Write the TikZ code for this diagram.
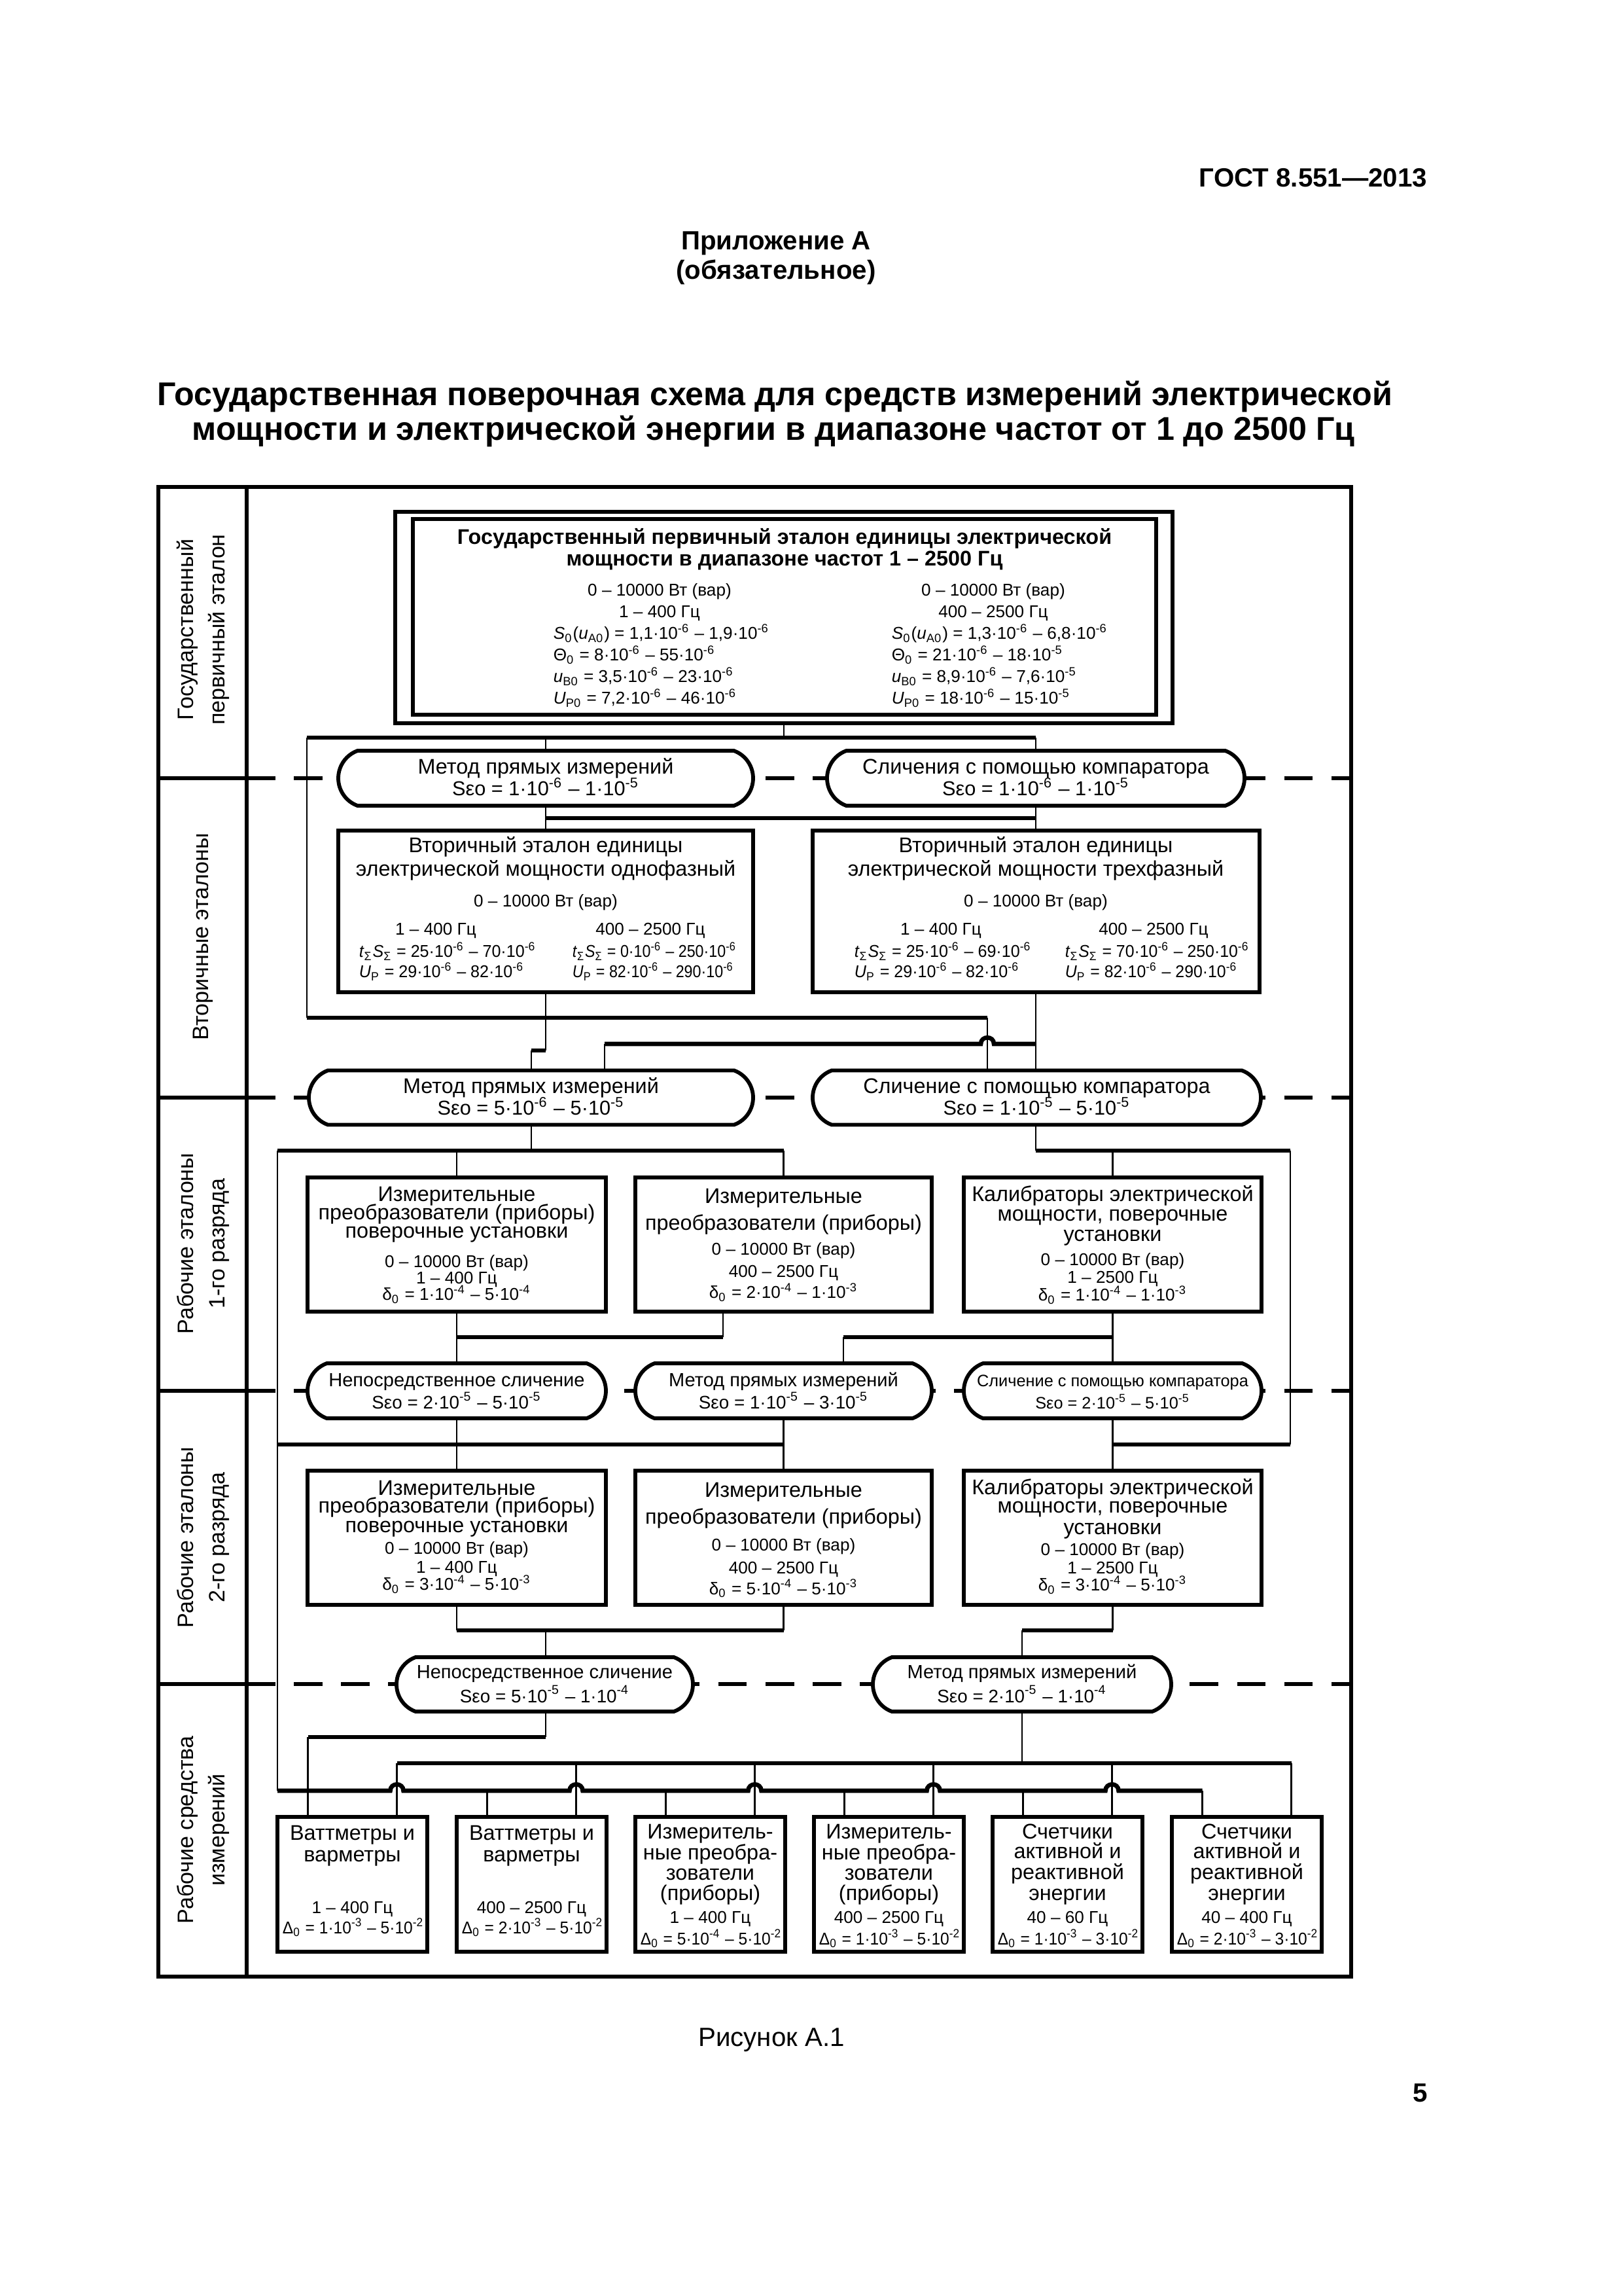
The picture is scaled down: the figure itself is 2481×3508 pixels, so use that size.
\documentclass[tikz,border=0pt]{standalone}
\usepackage{fontspec}
\usepackage{graphicx}
\setmainfont{Liberation Sans}
\usetikzlibrary{shapes.misc}
\newdimen\px \px=0.0846433mm
\newcounter{tcount}
\newcommand\TX[4][tx]{\stepcounter{tcount}\node[#1] (txt\arabic{tcount}) at (#2,#3) {#4};}
\newcommand\tpow[1]{·10\textsuperscript{#1}}
\newcommand\hump[2]{-- ({#1-10},#2) .. controls ({#1-10},{#2-13}) and ({#1+10},{#2-13}) .. ({#1+10},#2)}
\newcommand\tS{\textit{t}\textsubscript{Σ}\textit{S}\textsubscript{Σ}}
\newcommand\UP{\textit{U}\textsubscript{P}}
\newcommand\sx[2]{\scalebox{#1}[1]{#2}}
\begin{document}
\begin{tikzpicture}[x=0.0846433mm, y=-0.0846433mm,
  box/.style={draw, line width=1.4pt, fill=white, rectangle, inner sep=0pt, outer sep=0pt},
  ov/.style={draw, line width=1.4pt, fill=white, rounded rectangle, rounded rectangle arc length=140, inner sep=0pt, outer sep=0pt},
  tx/.style={inner sep=0pt, anchor=mid, font=\fontsize{7.8}{9}\selectfont},
  ots/.style={inner sep=0pt, anchor=mid, font=\fontsize{7.4}{9}\selectfont},
  qt/.style={inner sep=0pt, anchor=mid, font=\fontsize{7}{8}\selectfont},
  qs/.style={inner sep=0pt, anchor=mid, font=\fontsize{6.7}{8}\selectfont},
  txs/.style={inner sep=0pt, anchor=mid, font=\fontsize{6.1}{7}\selectfont},
  tb/.style={inner sep=0pt, anchor=mid, font=\bfseries\fontsize{7.8}{9}\selectfont},
  vl/.style={inner sep=0pt, anchor=mid, font=\fontsize{6.3}{7}\selectfont},
  vw/.style={vl, anchor=mid west},
  lab/.style={inner sep=0pt, anchor=mid, rotate=90, font=\fontsize{8.2}{9}\selectfont},
  cthin/.style={line width=0.65pt},
  cthick/.style={line width=1.6pt},
  dl/.style={line width=1.5pt, dash pattern=on 3.7mm off 2.4mm},
  frm/.style={line width=1.3pt}]
\useasboundingbox (0,0) rectangle (2481,3508);

% header
\node[inner sep=0pt, anchor=mid east, font=\bfseries\fontsize{9.7}{11}\selectfont] (gost) at (2182,275) {ГОСТ 8.551—2013};
\node[inner sep=0pt, anchor=mid, font=\bfseries\fontsize{9.7}{11}\selectfont] (app) at (1186,371) {Приложение А};
\node[inner sep=0pt, anchor=mid, font=\bfseries\fontsize{9.7}{11}\selectfont] (obl) at (1186,416) {(обязательное)};
\node[inner sep=0pt, anchor=mid, font=\bfseries\fontsize{12.1}{14}\selectfont] (ttl1) at (1184,609) {Государственная поверочная схема для средств измерений электрической};
\node[inner sep=0pt, anchor=mid, font=\bfseries\fontsize{12.1}{14}\selectfont] (ttl2) at (1182,662) {мощности и электрической энергии в диапазоне частот от 1 до 2500 Гц};
\node[inner sep=0pt, anchor=mid, font=\fontsize{9.7}{11}\selectfont] (fig) at (1179,3115) {Рисунок А.1};
\node[inner sep=0pt, anchor=mid, font=\bfseries\fontsize{9.7}{11}\selectfont] (pg) at (2171,3200) {5};

% frame
\draw[frm] (242,744) rectangle (2065,3020);
\draw[frm] (377,744) -- (377,3020);
\foreach \yy in {1189,1677,2125,2573} {
  \draw[frm] (242,\yy) -- (377,\yy);
  \draw[dl] (377,\yy) -- (2065,\yy);
}
% left labels
\node[lab] (l1a) at (285,962) {Государственный};
\node[lab] (l1b) at (333,962) {первичный эталон};
\node[lab] (l2) at (308,1431) {Вторичные эталоны};
\node[lab] (l3a) at (285,1900) {Рабочие эталоны};
\node[lab] (l3b) at (333,1900) {1-го разряда};
\node[lab] (l4a) at (285,2349) {Рабочие эталоны};
\node[lab] (l4b) at (333,2349) {2-го разряда};
\node[lab] (l5a) at (285,2796) {Рабочие средства};
\node[lab] (l5b) at (333,2796) {измерений};

% ---------- connectors (drawn first, boxes on top) ----------
\coordinate (a1) at (469,1127);
\coordinate (a2) at (1583,1127);
\draw[cthin] (1198,1105) -- (1198,1127);
\draw[cthick] (a1) -- (a2);
\draw[cthin] (834,1127) -- (834,1147);
\draw[cthin] (a2) -- (1583,1147);
\draw[cthin] (834,1231) -- (834,1269);
\draw[cthin] (1583,1231) -- (1583,1269);
\draw[cthick] (834,1250) -- (1583,1250);
\draw[cthin] (a1) -- (469,1555);
\draw[cthick] (469,1555) -- (1509,1555);
\draw[cthin] (1509,1555) -- (1509,1636);
\draw[cthin] (834,1516) -- (834,1605);
\draw[cthick] (834,1605) -- (812,1605);
\draw[cthin] (812,1605) -- (812,1636);
\draw[cthin] (1583,1516) -- (1583,1636);
\draw[cthick] (924,1595) \hump{1509}{1595} -- (1583,1595);
\draw[cthin] (924,1595) -- (924,1636);
% section 3
\draw[cthin] (812,1718) -- (812,1758);
\draw[cthick] (424,1758) -- (1197.5,1758);
\draw[cthin] (698,1758) -- (698,1799);
\draw[cthin] (1197.5,1758) -- (1197.5,1799);
\draw[cthin] (1583,1718) -- (1583,1758);
\draw[cthick] (1583,1758) -- (1972,1758);
\draw[cthin] (1700.5,1758) -- (1700.5,1799);
\draw[cthin] (424,1758) -- (424,2736);
\draw[cthin] (1972,1758) -- (1972,2207);
% section 3 -> 4
\draw[cthin] (698,2004) -- (698,2083);
\draw[cthick] (698,2043) -- (1105,2043);
\draw[cthin] (1105,2004) -- (1105,2043);
\draw[cthin] (1700.5,2004) -- (1700.5,2083);
\draw[cthick] (1289,2043) -- (1700.5,2043);
\draw[cthin] (1289,2043) -- (1289,2083);
\draw[cthin] (698,2167) -- (698,2247);
\draw[cthin] (1197.5,2167) -- (1197.5,2247);
\draw[cthin] (1700.5,2167) -- (1700.5,2247);
\draw[cthick] (424,2207) -- (1197.5,2207);
\draw[cthick] (1700.5,2207) -- (1972,2207);
% section 4 -> 5
\draw[cthin] (698,2452) -- (698,2491);
\draw[cthin] (1197.5,2452) -- (1197.5,2491);
\draw[cthick] (698,2491) -- (1197.5,2491);
\draw[cthin] (834,2491) -- (834,2532);
\draw[cthin] (1700.5,2452) -- (1700.5,2491);
\draw[cthick] (1562,2491) -- (1700.5,2491);
\draw[cthin] (1562,2491) -- (1562,2532);
% section 5 -> 6
\draw[cthin] (834,2615) -- (834,2654);
\draw[cthick] (470.5,2654) -- (834,2654);
\draw[cthin] (470.5,2654) -- (470.5,2776);
\draw[cthin] (1562,2615) -- (1562,2694);
\draw[cthick] (606.5,2694) -- (1973.5,2694);
\foreach \xx in {606.5,880.5,1153.5,1426.5,1699.5,1973.5} \draw[cthin] (\xx,2694) -- (\xx,2776);
\draw[cthick] (424,2736) \hump{606.5}{2736} \hump{880.5}{2736} \hump{1153.5}{2736} \hump{1426.5}{2736} \hump{1699.5}{2736} -- (1837.5,2736);
\foreach \xx in {744.5,1017.5,1290.5,1563.5,1837.5} \draw[cthin] (\xx,2736) -- (\xx,2776);

% ---------- primary ----------
\node[box, minimum width=1188\px, minimum height=323\px] (P) at (1198,943.5) {};
\node[draw, line width=1.4pt, inner sep=0pt, minimum width=1136\px, minimum height=299\px] (Pi) at (1199,942.5) {};
\TX[tb]{1199}{821}{Государственный первичный эталон единицы электрической}
\TX[tb]{1199}{854}{мощности в диапазоне частот 1 – 2500 Гц}
\TX[vl]{1008}{900}{0 – 10000 Вт (вар)}
\TX[vl]{1008}{933}{1 – 400 Гц}
\TX[vw]{845}{966}{\textit{S}\textsubscript{0}(\textit{u}\textsubscript{A0}) = 1,1\tpow{-6} – 1,9\tpow{-6}}
\TX[vw]{845}{999}{Θ\textsubscript{0} = 8\tpow{-6} – 55\tpow{-6}}
\TX[vw]{845}{1032}{\textit{u}\textsubscript{B0} = 3,5\tpow{-6} – 23\tpow{-6}}
\TX[vw]{845}{1065}{\textit{U}\textsubscript{P0} = 7,2\tpow{-6} – 46\tpow{-6}}
\TX[vl]{1518}{900}{0 – 10000 Вт (вар)}
\TX[vl]{1518}{933}{400 – 2500 Гц}
\TX[vw]{1362}{966}{\textit{S}\textsubscript{0}(\textit{u}\textsubscript{A0}) = 1,3\tpow{-6} – 6,8\tpow{-6}}
\TX[vw]{1362}{999}{Θ\textsubscript{0} = 21\tpow{-6} – 18\tpow{-5}}
\TX[vw]{1362}{1032}{\textit{u}\textsubscript{B0} = 8,9\tpow{-6} – 7,6\tpow{-5}}
\TX[vw]{1362}{1065}{\textit{U}\textsubscript{P0} = 18\tpow{-6} – 15\tpow{-5}}

% ---------- ovals row 1 ----------
\node[ov, minimum width=634\px, minimum height=84\px] (O1) at (834,1189) {};
\node[ov, minimum width=638\px, minimum height=84\px] (O2) at (1583,1189) {};
\TX{834}{1172}{Метод прямых измерений}
\TX[ots]{834}{1205}{Sεo = 1\tpow{-6} – 1\tpow{-5}}
\TX{1583}{1172}{Сличения с помощью компаратора}
\TX[ots]{1583}{1205}{Sεo = 1\tpow{-6} – 1\tpow{-5}}

% ---------- secondary ----------
\node[box, minimum width=634\px, minimum height=247\px] (B1) at (834,1392.5) {};
\node[box, minimum width=683\px, minimum height=247\px] (B2) at (1583.5,1392.5) {};
\TX{834}{1292}{Вторичный эталон единицы}
\TX{834}{1328}{электрической мощности однофазный}
\TX[vl]{834}{1375}{0 – 10000 Вт (вар)}
\TX[vl]{666}{1418}{1 – 400 Гц}
\TX[vl]{994}{1418}{400 – 2500 Гц}
\TX[vw]{548}{1452}{\sx{0.96}{\tS{} = 25\tpow{-6} – 70\tpow{-6}}}
\TX[vw]{548}{1483}{\sx{0.96}{\UP{} = 29\tpow{-6} – 82\tpow{-6}}}
\TX[vw]{874}{1452}{\sx{0.89}{\tS{} = 0\tpow{-6} – 250\tpow{-6}}}
\TX[vw]{874}{1483}{\sx{0.89}{\UP{} = 82\tpow{-6} – 290\tpow{-6}}}
\TX{1583}{1292}{Вторичный эталон единицы}
\TX{1583}{1328}{электрической мощности трехфазный}
\TX[vl]{1583}{1375}{0 – 10000 Вт (вар)}
\TX[vl]{1438}{1418}{1 – 400 Гц}
\TX[vl]{1763}{1418}{400 – 2500 Гц}
\TX[vw]{1305}{1452}{\sx{0.96}{\tS{} = 25\tpow{-6} – 69\tpow{-6}}}
\TX[vw]{1305}{1483}{\sx{0.96}{\UP{} = 29\tpow{-6} – 82\tpow{-6}}}
\TX[vw]{1627}{1452}{\sx{0.95}{\tS{} = 70\tpow{-6} – 250\tpow{-6}}}
\TX[vw]{1627}{1483}{\sx{0.95}{\UP{} = 82\tpow{-6} – 290\tpow{-6}}}

% ---------- ovals row 2 ----------
\node[ov, minimum width=679\px, minimum height=83\px] (O3) at (811.5,1677) {};
\node[ov, minimum width=685\px, minimum height=83\px] (O4) at (1584.5,1677) {};
\TX{811.5}{1660}{Метод прямых измерений}
\TX[ots]{811.5}{1693}{Sεo = 5\tpow{-6} – 5\tpow{-5}}
\TX{1584.5}{1660}{Сличение с помощью компаратора}
\TX[ots]{1584.5}{1693}{Sεo = 1\tpow{-5} – 5\tpow{-5}}

% ---------- 1st rank boxes ----------
\node[box, minimum width=456\px, minimum height=205\px] (C1) at (698,1901.5) {};
\node[box, minimum width=453\px, minimum height=205\px] (C2) at (1197.5,1901.5) {};
\node[box, minimum width=455\px, minimum height=205\px] (C3) at (1700.5,1901.5) {};
\TX{698}{1825}{Измерительные}
\TX{698}{1853}{преобразователи (приборы)}
\TX{698}{1881}{поверочные установки}
\TX[vl]{698}{1926}{0 – 10000 Вт (вар)}
\TX[vl]{698}{1951}{1 – 400 Гц}
\TX[vl]{698}{1976}{δ\textsubscript{0} = 1\tpow{-4} – 5\tpow{-4}}
\TX{1197.5}{1828}{Измерительные}
\TX{1197.5}{1869}{преобразователи (приборы)}
\TX[vl]{1197.5}{1907}{0 – 10000 Вт (вар)}
\TX[vl]{1197.5}{1941}{400 – 2500 Гц}
\TX[vl]{1197.5}{1973}{δ\textsubscript{0} = 2\tpow{-4} – 1\tpow{-3}}
\TX{1700.5}{1825}{Калибраторы электрической}
\TX{1700.5}{1855}{мощности, поверочные}
\TX{1700.5}{1886}{установки}
\TX[vl]{1700.5}{1923}{0 – 10000 Вт (вар)}
\TX[vl]{1700.5}{1950}{1 – 2500 Гц}
\TX[vl]{1700.5}{1977}{δ\textsubscript{0} = 1\tpow{-4} – 1\tpow{-3}}

% ---------- ovals row 3 ----------
\node[ov, minimum width=456\px, minimum height=84\px] (Q1) at (698,2125) {};
\node[ov, minimum width=453\px, minimum height=84\px] (Q2) at (1197.5,2125) {};
\node[ov, minimum width=455\px, minimum height=84\px] (Q3) at (1700.5,2125) {};
\TX[qt]{698}{2108}{Непосредственное сличение}
\TX[qs]{698}{2142}{Sεo = 2\tpow{-5} – 5\tpow{-5}}
\TX[qt]{1197.5}{2108}{Метод прямых измерений}
\TX[qs]{1197.5}{2142}{Sεo = 1\tpow{-5} – 3\tpow{-5}}
\TX[txs]{1700.5}{2108}{Сличение с помощью компаратора}
\TX[txs]{1700.5}{2142}{Sεo = 2\tpow{-5} – 5\tpow{-5}}

% ---------- 2nd rank boxes ----------
\node[box, minimum width=456\px, minimum height=205\px] (D1) at (698,2349.5) {};
\node[box, minimum width=453\px, minimum height=205\px] (D2) at (1197.5,2349.5) {};
\node[box, minimum width=455\px, minimum height=205\px] (D3) at (1700.5,2349.5) {};
\TX{698}{2273}{Измерительные}
\TX{698}{2301}{преобразователи (приборы)}
\TX{698}{2330}{поверочные установки}
\TX[vl]{698}{2363}{0 – 10000 Вт (вар)}
\TX[vl]{698}{2392}{1 – 400 Гц}
\TX[vl]{698}{2419}{δ\textsubscript{0} = 3\tpow{-4} – 5\tpow{-3}}
\TX{1197.5}{2277}{Измерительные}
\TX{1197.5}{2317}{преобразователи (приборы)}
\TX[vl]{1197.5}{2358}{0 – 10000 Вт (вар)}
\TX[vl]{1197.5}{2393}{400 – 2500 Гц}
\TX[vl]{1197.5}{2425}{δ\textsubscript{0} = 5\tpow{-4} – 5\tpow{-3}}
\TX{1700.5}{2272}{Калибраторы электрической}
\TX{1700.5}{2301}{мощности, поверочные}
\TX{1700.5}{2333}{установки}
\TX[vl]{1700.5}{2365}{0 – 10000 Вт (вар)}
\TX[vl]{1700.5}{2393}{1 – 2500 Гц}
\TX[vl]{1700.5}{2420}{δ\textsubscript{0} = 3\tpow{-4} – 5\tpow{-3}}

% ---------- ovals row 4 ----------
\node[ov, minimum width=453\px, minimum height=83\px] (R1) at (832.5,2573.5) {};
\node[ov, minimum width=456\px, minimum height=83\px] (R2) at (1562,2573.5) {};
\TX[qt]{832.5}{2553}{Непосредственное сличение}
\TX[qs]{832.5}{2590}{Sεo = 5\tpow{-5} – 1\tpow{-4}}
\TX[qt]{1562}{2553}{Метод прямых измерений}
\TX[qs]{1562}{2590}{Sεo = 2\tpow{-5} – 1\tpow{-4}}

% ---------- working instruments ----------
\foreach \n/\cx in {1/538.5,2/812.5,3/1085.5,4/1358.5,5/1631.5,6/1905.5}
  \node[box, minimum width=229\px, minimum height=206\px] (E\n) at (\cx,2879) {};
\TX{538.5}{2800}{Ваттметры и}
\TX{538.5}{2833}{варметры}
\TX[vl]{538.5}{2912}{1 – 400 Гц}
\TX[vl]{540}{2943}{\sx{0.94}{Δ\textsubscript{0} = 1\tpow{-3} – 5\tpow{-2}}}
\TX{812.5}{2800}{Ваттметры и}
\TX{812.5}{2833}{варметры}
\TX[vl]{812.5}{2912}{400 – 2500 Гц}
\TX[vl]{814}{2943}{\sx{0.94}{Δ\textsubscript{0} = 2\tpow{-3} – 5\tpow{-2}}}
\TX{1085.5}{2798}{Измеритель-}
\TX{1085.5}{2830}{ные преобра-}
\TX{1085.5}{2861}{зователи}
\TX{1085.5}{2892}{(приборы)}
\TX[vl]{1085.5}{2927}{1 – 400 Гц}
\TX[vl]{1087}{2960}{\sx{0.94}{Δ\textsubscript{0} = 5\tpow{-4} – 5\tpow{-2}}}
\TX{1358.5}{2798}{Измеритель-}
\TX{1358.5}{2830}{ные преобра-}
\TX{1358.5}{2861}{зователи}
\TX{1358.5}{2892}{(приборы)}
\TX[vl]{1358.5}{2927}{400 – 2500 Гц}
\TX[vl]{1360}{2960}{\sx{0.94}{Δ\textsubscript{0} = 1\tpow{-3} – 5\tpow{-2}}}
\TX{1631.5}{2798}{Счетчики}
\TX{1631.5}{2828}{активной и}
\TX{1631.5}{2860}{реактивной}
\TX{1631.5}{2892}{энергии}
\TX[vl]{1631.5}{2927}{40 – 60 Гц}
\TX[vl]{1633}{2960}{\sx{0.94}{Δ\textsubscript{0} = 1\tpow{-3} – 3\tpow{-2}}}
\TX{1905.5}{2798}{Счетчики}
\TX{1905.5}{2828}{активной и}
\TX{1905.5}{2860}{реактивной}
\TX{1905.5}{2892}{энергии}
\TX[vl]{1905.5}{2927}{40 – 400 Гц}
\TX[vl]{1907}{2960}{\sx{0.94}{Δ\textsubscript{0} = 2\tpow{-3} – 3\tpow{-2}}}
\end{tikzpicture}
\end{document}
